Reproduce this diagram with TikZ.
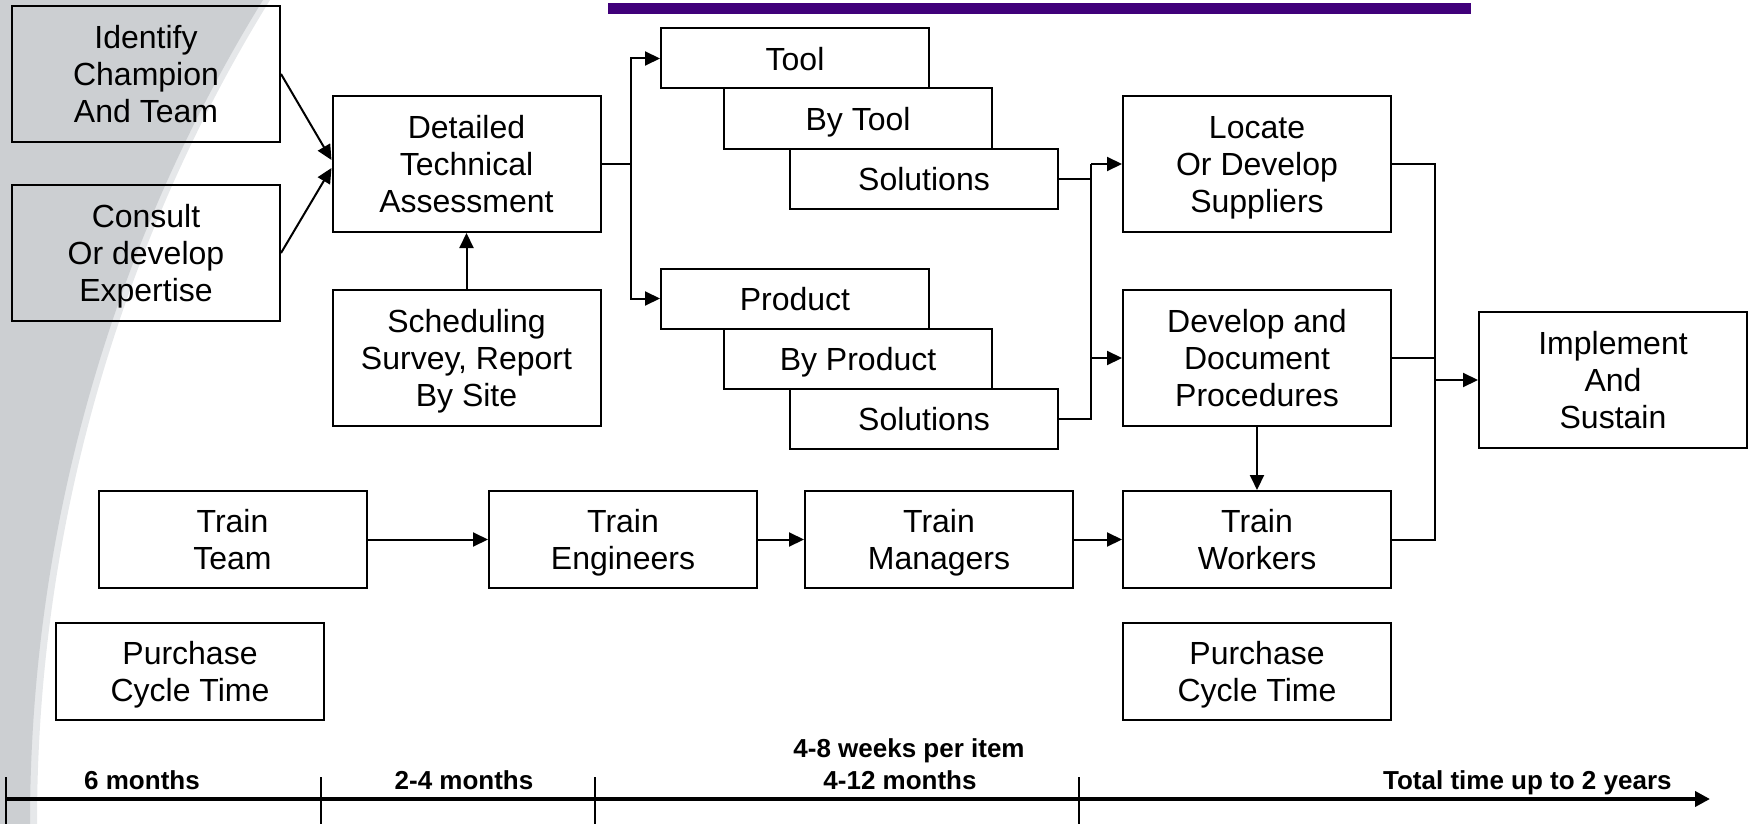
\documentclass[tikz,border=0pt]{standalone}
\usepackage{fontspec}
\setmainfont{Liberation Sans}
\usetikzlibrary{arrows.meta}

\definecolor{barpurple}{RGB}{64,0,122}
\definecolor{swoosh}{RGB}{204,207,210}
\definecolor{swooshlight}{RGB}{230,232,234}

\tikzset{
	box/.style={draw,line width=1pt,fill=white,align=center,inner sep=0pt,minimum width=134pt,
		font=\fontsize{16}{18.5}\selectfont,text depth=-1pt},
	bigbox/.style={box,minimum height=68pt},
	slimbox/.style={box,minimum height=30pt},
	trainbox/.style={box,minimum height=48.5pt},
	link/.style={draw,line width=1pt},
	arr/.style={link,-{Triangle[length=7.5pt,width=7pt]}},
	span/.style={font=\bfseries\fontsize{13}{15}\selectfont,inner sep=0pt,anchor=base}
}

\begin{document}
\begin{tikzpicture}[x=0.5pt,y=-0.5pt]
	\useasboundingbox (0,0) rectangle (1750,824);
	% background swoosh and top bar
	\fill[swooshlight] (0,0) -- (270,0) .. controls (117,248) and (37,533) .. (37,824) -- (0,824) -- cycle;
	\fill[swoosh] (0,0) -- (263,0) .. controls (110,248) and (30,533) .. (30,824) -- (0,824) -- cycle;
	\fill[barpurple] (608,3) rectangle (1471,14);

	% first column
	\node[bigbox,fill=none] (ident) at (146,74) {Identify\\Champion\\And Team};
	\node[bigbox,fill=none] (consult) at (146,253) {Consult\\Or develop\\Expertise};
	\node[bigbox] (tda) at (466.5,164) {Detailed\\Technical\\Assessment};
	\node[bigbox] (sched) at (466.5,358) {Scheduling\\Survey, Report\\By Site};

	% stacked solution boxes
	\node[slimbox] (tool) at (795,58.5) {Tool};
	\node[slimbox] (bytool) at (858,118.5) {By Tool};
	\node[slimbox] (sol1) at (924,178.5) {Solutions};
	\node[slimbox] (product) at (795,298.5) {Product};
	\node[slimbox] (byprod) at (858,358.5) {By Product};
	\node[slimbox] (sol2) at (924,418.5) {Solutions};

	\node[bigbox] (locate) at (1257,164) {Locate\\Or Develop\\Suppliers};
	\node[bigbox] (devdoc) at (1257,358) {Develop and\\Document\\Procedures};
	\node[bigbox] (impl) at (1613,380) {Implement\\And\\Sustain};

	% training row
	\node[trainbox] (trteam) at (232.5,539.5) {Train\\Team};
	\node[trainbox] (treng) at (623,539.5) {Train\\Engineers};
	\node[trainbox] (trman) at (939,539.5) {Train\\Managers};
	\node[trainbox] (trwork) at (1257,539.5) {Train\\Workers};

	\node[trainbox,fill=none] (pur1) at (190,671.5) {Purchase\\Cycle Time};
	\node[trainbox] (pur2) at (1257,671.5) {Purchase\\Cycle Time};

	% connectors
	\draw[arr] (ident.east) -- ([yshift=2pt]tda.west);
	\draw[arr] (consult.east) -- ([yshift=-2pt]tda.west);
	\draw[arr] (sched.north) -- (tda.south);

	\coordinate (split) at (631,164);
	\draw[link] (tda.east) -- (split);
	\draw[arr] (split) |- (tool.west);
	\draw[arr] (split) |- (product.west);

	\coordinate (merge) at (1091,0);
	\draw[link] (sol1.east) -- (sol1.east -| merge);
	\draw[link] (locate.west -| merge) -- (sol2.east -| merge) -- (sol2.east);
	\draw[arr] (locate.west -| merge) -- (locate.west);
	\draw[arr] (devdoc.west -| merge) -- (devdoc.west);

	\coordinate (join) at (1435,0);
	\draw[link] (locate.east) -| (trwork.east -| join) -- (trwork.east);
	\draw[link] (devdoc.east) -- (devdoc.east -| join);
	\draw[arr] (impl.west -| join) -- (impl.west);

	\draw[arr] (devdoc.south) -- (trwork.north);
	\draw[arr] (trteam.east) -- (treng.west);
	\draw[arr] (treng.east) -- (trman.west);
	\draw[arr] (trman.east) -- (trwork.west);

	% time line
	\coordinate (tstart) at (6,799);
	\coordinate (tend) at (1710,799);
	\draw[line width=2pt,-{Triangle[length=7.5pt,width=7.5pt]}] (tstart) -- (tend);
	\foreach \x in {6,321,595,1079}
		\draw[line width=1pt] (\x,777) -- (\x,824);
	\node[span] (m6) at (142,789) {6 months};
	\node[span] (m24) at (464,789) {2-4 months};
	\node[span] (m412) at (900,789) {4-12 months};
	\node[span] (wk) at (909,757) {4-8 weeks per item};
	\node[span,anchor=base east] (total) at (1672,789) {Total time up to 2 years};
\end{tikzpicture}
\end{document}
